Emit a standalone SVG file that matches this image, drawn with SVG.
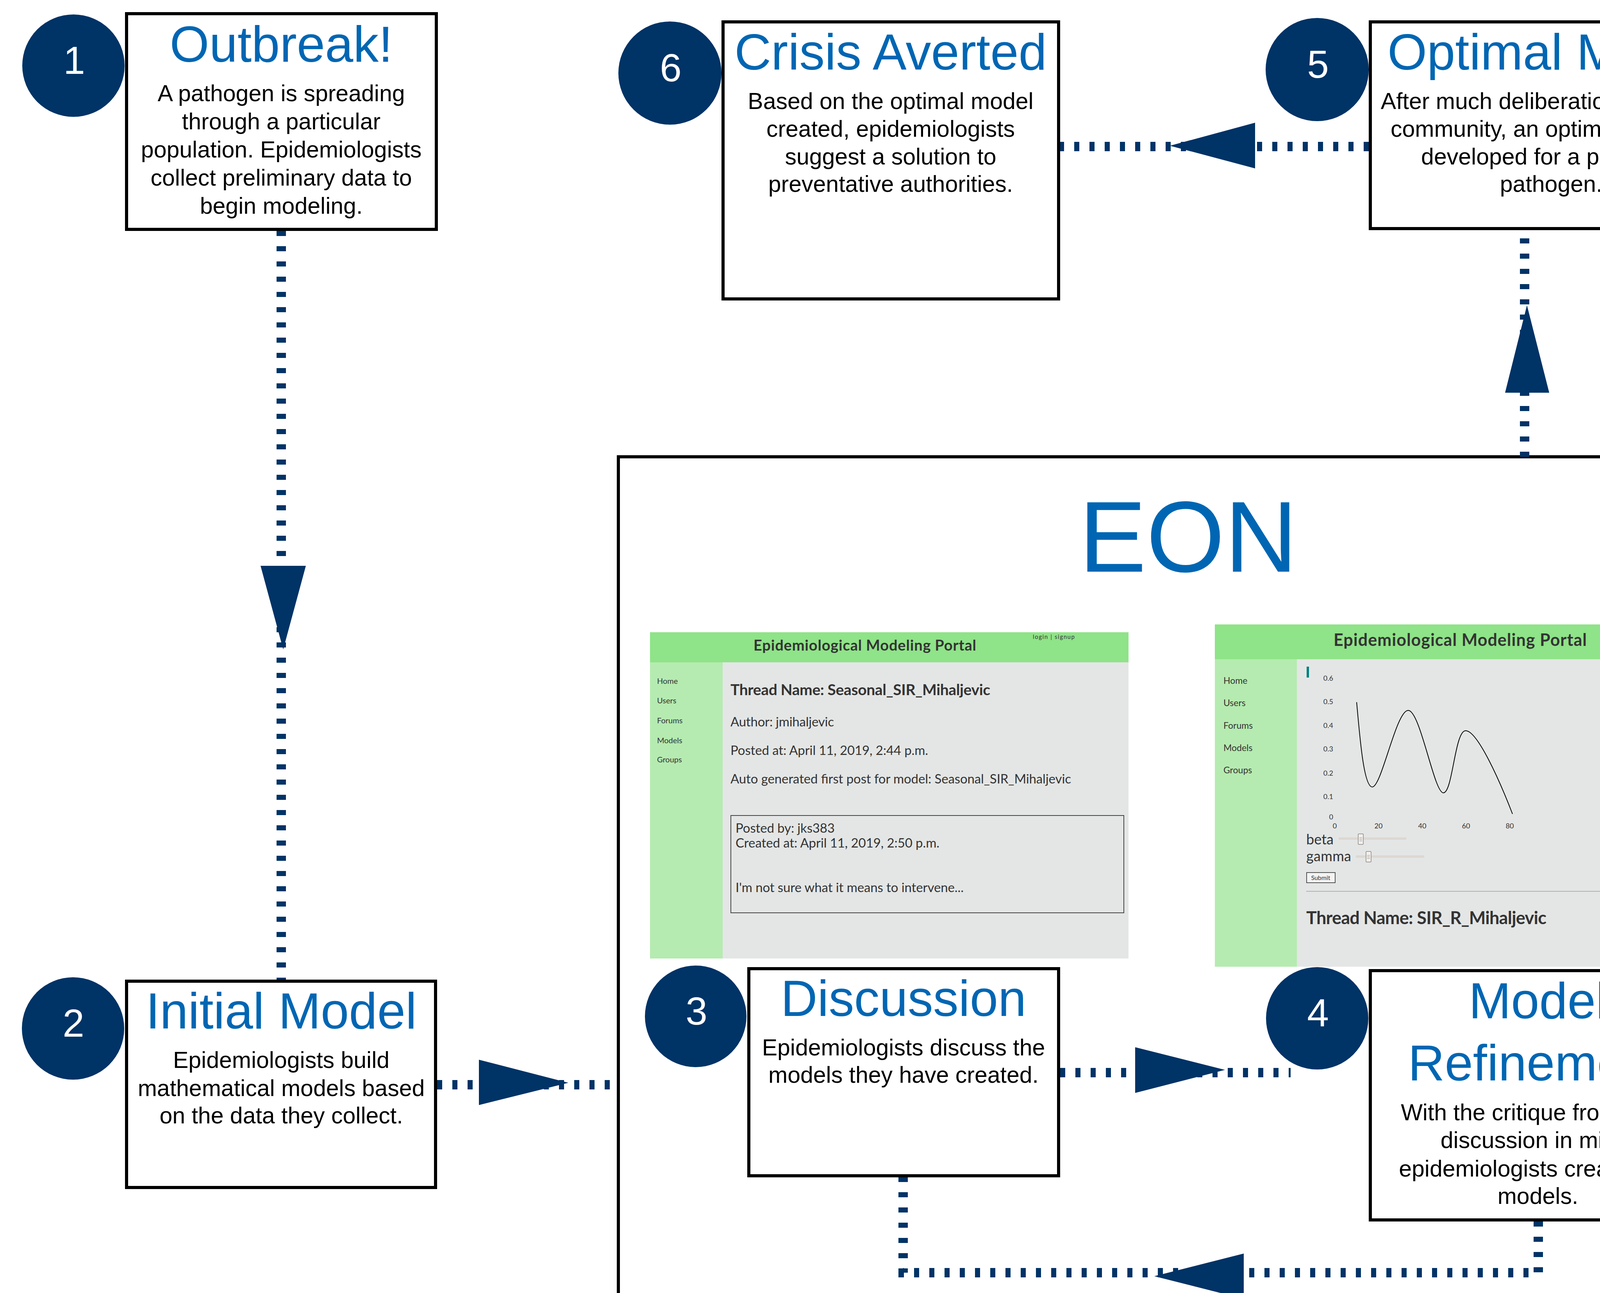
<svg xmlns="http://www.w3.org/2000/svg" width="4611" height="3309" viewBox="0 0 4611 3309">
<style>
.box{fill:#fff;stroke:#000;stroke-width:8}
.circ{fill:#003366}
.num{font-family:"Liberation Sans",Arial,sans-serif;font-size:100px;fill:#fff;text-anchor:middle}
.title{font-family:"Liberation Sans",Arial,sans-serif;font-size:130px;fill:#0066b3;text-anchor:middle}
.body{font-family:"Liberation Sans",Arial,sans-serif;font-size:59px;fill:#000;text-anchor:middle}
.conn{fill:none;stroke:#003366;stroke-width:24;stroke-dasharray:13 26}
.head{fill:#003366}
.lato{font-family:Lato,"Open Sans",sans-serif;fill:#333}
.hdr{fill:#8fe388}
.side{fill:#b5ebb0}
.main{fill:#e4e6e5}
</style>
<rect width="4611" height="3309" fill="#fff"/>

<g id="eon">
<rect x="1583" y="1169" width="2983" height="2400" fill="none" stroke="#000" stroke-width="8"/>
<text x="3042" y="1463" font-family="Liberation Sans, Arial, sans-serif" font-size="258" fill="#0066b3" text-anchor="middle">EON</text>
</g>

<g id="screenshot-forum">
<rect class="main" x="1664" y="1618" width="1225" height="835"/>
<rect class="hdr" x="1664" y="1618" width="1225" height="77"/>
<rect class="side" x="1664" y="1695" width="186" height="758"/>
<text class="lato" x="2214" y="1665" font-size="38" font-weight="bold" text-anchor="middle" textLength="570">Epidemiological Modeling Portal</text>
<text class="lato" x="2644" y="1635" font-size="15" fill="#111" textLength="107">login | signup</text>
<text class="lato" x="1682" y="1750" font-size="20">Home</text>
<text class="lato" x="1682" y="1800" font-size="20">Users</text>
<text class="lato" x="1682" y="1851" font-size="20">Forums</text>
<text class="lato" x="1682" y="1902" font-size="20">Models</text>
<text class="lato" x="1682" y="1951" font-size="20">Groups</text>
<text class="lato" x="1870" y="1779" font-size="39" font-weight="bold" fill="#222" textLength="665">Thread Name: Seasonal_SIR_Mihaljevic</text>
<text class="lato" x="1870" y="1859" font-size="33" fill="#222" textLength="265">Author: jmihaljevic</text>
<text class="lato" x="1870" y="1932" font-size="33" fill="#222" textLength="506">Posted at: April 11, 2019, 2:44 p.m.</text>
<text class="lato" x="1870" y="2005" font-size="33" fill="#222" textLength="872">Auto generated first post for model: Seasonal_SIR_Mihaljevic</text>
<rect x="1871" y="2087" width="1006" height="249" fill="none" stroke="#444" stroke-width="2"/>
<text class="lato" x="1883" y="2131" font-size="33" fill="#222" textLength="254">Posted by: jks383</text>
<text class="lato" x="1883" y="2169" font-size="33" fill="#222" textLength="522">Created at: April 11, 2019, 2:50 p.m.</text>
<text class="lato" x="1883" y="2283" font-size="33" fill="#222" textLength="584">I'm not sure what it means to intervene...</text>
</g>

<g id="screenshot-model">
<rect class="main" x="3110" y="1598" width="1395" height="876"/>
<rect class="hdr" x="3110" y="1598" width="1395" height="89"/>
<rect class="side" x="3110" y="1687" width="210" height="787"/>
<text class="lato" x="3738" y="1653" font-size="43" font-weight="bold" text-anchor="middle" textLength="648">Epidemiological Modeling Portal</text>
<text class="lato" x="4227" y="1617" font-size="17" fill="#111" textLength="122">login | signup</text>
<text class="lato" x="3132" y="1750" font-size="23">Home</text>
<text class="lato" x="3132" y="1807" font-size="23">Users</text>
<text class="lato" x="3132" y="1865" font-size="23">Forums</text>
<text class="lato" x="3132" y="1922" font-size="23">Models</text>
<text class="lato" x="3132" y="1979" font-size="23">Groups</text>
<rect x="3345" y="1706" width="6" height="28" fill="#008080"/>
<g class="lato" font-size="18" text-anchor="end">
<text x="3413" y="1742">0.6</text>
<text x="3413" y="1802">0.5</text>
<text x="3413" y="1863">0.4</text>
<text x="3413" y="1923">0.3</text>
<text x="3413" y="1985">0.2</text>
<text x="3413" y="2045">0.1</text>
<text x="3413" y="2097">0</text>
</g>
<g class="lato" font-size="18" text-anchor="middle">
<text x="3417" y="2120">0</text>
<text x="3529" y="2120">20</text>
<text x="3641" y="2120">40</text>
<text x="3753" y="2120">60</text>
<text x="3865" y="2120">80</text>
</g>
<path d="M3473,1797 C3481,1885 3491,2014 3513,2014 C3537,2014 3574,1818 3605,1818 C3636,1818 3671,2029 3695,2029 C3719,2029 3724,1870 3752,1870 C3782,1870 3838,1995 3872,2083" fill="none" stroke="#000" stroke-width="2"/>
<text class="lato" x="3344" y="2161" font-size="36" fill="#222" textLength="70">beta</text>
<rect x="3427" y="2143" width="173" height="6" fill="#ddd8d2"/>
<rect x="3477" y="2134" width="13" height="27" rx="2" fill="#f2f0ee" stroke="#8a8580" stroke-width="1.5"/>
<path d="M3480,2144 h7 M3480,2148 h7 M3480,2152 h7" stroke="#8a8580" stroke-width="1"/>
<text class="lato" x="3344" y="2204" font-size="36" fill="#222" textLength="115">gamma</text>
<rect x="3471" y="2189" width="175" height="6" fill="#ddd8d2"/>
<rect x="3497" y="2179" width="13" height="27" rx="2" fill="#f2f0ee" stroke="#8a8580" stroke-width="1.5"/>
<path d="M3500,2189 h7 M3500,2193 h7 M3500,2197 h7" stroke="#8a8580" stroke-width="1"/>
<rect x="3345" y="2233" width="73" height="26" fill="#f3f3f3" stroke="#222" stroke-width="1.5"/>
<text class="lato" x="3381" y="2252" font-size="16" fill="#111" text-anchor="middle">Submit</text>
<line x1="3344" y1="2281" x2="4494" y2="2281" stroke="#b0b0b0" stroke-width="2"/>
<text class="lato" x="3344" y="2365" font-size="45" font-weight="bold" fill="#222" textLength="615">Thread Name: SIR_R_Mihaljevic</text>
</g>

<g id="connectors">
<line class="conn" x1="720" y1="591" x2="720" y2="2507"/>
<polygon class="head" points="667,1448 783,1448 725,1662"/>
<line class="conn" x1="1119" y1="2776" x2="1583" y2="2776"/>
<polygon class="head" points="1226,2712 1226,2828 1455,2771"/>
<line class="conn" x1="2714" y1="2745" x2="3304" y2="2745"/>
<polygon class="head" points="2906,2680 2906,2797 3136,2738"/>
<path class="conn" d="M3938,3126 V3257 H2312 V3013"/>
<polygon class="head" points="3184,3208 3184,3324 2955,3266"/>
<line class="conn" x1="3903" y1="1169" x2="3903" y2="589"/>
<polygon class="head" points="3909,781 3853,1005 3966,1005"/>
<line class="conn" x1="3504" y1="375" x2="2714" y2="375"/>
<polygon class="head" points="2995,373 3213,314 3213,431"/>
</g>

<g id="node-1">
<rect class="box" x="324" y="35" width="793" height="552"/>
<circle class="circ" cx="188" cy="168" r="131"/>
<text class="num" x="190" y="189">1</text>
<text class="title" x="720" y="158">Outbreak!</text>
<text class="body" x="720" y="259">A pathogen is spreading</text>
<text class="body" x="720" y="331">through a particular</text>
<text class="body" x="720" y="403">population. Epidemiologists</text>
<text class="body" x="720" y="475">collect preliminary data to</text>
<text class="body" x="720" y="547">begin modeling.</text>
</g>

<g id="node-2">
<rect class="box" x="324" y="2511" width="791" height="528"/>
<circle class="circ" cx="187" cy="2632" r="131"/>
<text class="num" x="188" y="2653">2</text>
<text class="title" x="720" y="2632">Initial Model</text>
<text class="body" x="720" y="2733">Epidemiologists build</text>
<text class="body" x="720" y="2805">mathematical models based</text>
<text class="body" x="720" y="2875">on the data they collect.</text>
</g>

<g id="node-3">
<rect class="box" x="1917" y="2479" width="793" height="530"/>
<circle class="circ" cx="1781" cy="2601" r="130"/>
<text class="num" x="1783" y="2622">3</text>
<text class="title" x="2313" y="2600">Discussion</text>
<text class="body" x="2313" y="2701">Epidemiologists discuss the</text>
<text class="body" x="2313" y="2771">models they have created.</text>
</g>

<g id="node-4">
<rect class="box" x="3508" y="2484" width="859" height="638"/>
<circle class="circ" cx="3372" cy="2606" r="131"/>
<text class="num" x="3374" y="2627">4</text>
<text class="title" x="3937" y="2606">Model</text>
<text class="title" x="3937" y="2765">Refinement</text>
<text class="body" x="3937" y="2867">With the critique from each</text>
<text class="body" x="3937" y="2938">discussion in mind,</text>
<text class="body" x="3937" y="3011">epidemiologists create new</text>
<text class="body" x="3937" y="3081">models.</text>
</g>

<g id="node-5">
<rect class="box" x="3508" y="56" width="926" height="529"/>
<circle class="circ" cx="3372" cy="178" r="132"/>
<text class="num" x="3374" y="199">5</text>
<text class="title" x="3971" y="178">Optimal Model</text>
<text class="body" x="3971" y="279">After much deliberation within the</text>
<text class="body" x="3971" y="350">community, an optimal model is</text>
<text class="body" x="3971" y="421">developed for a particular</text>
<text class="body" x="3971" y="491">pathogen.</text>
</g>

<g id="node-6">
<rect class="box" x="1851" y="56" width="859" height="709"/>
<circle class="circ" cx="1715" cy="187" r="132"/>
<text class="num" x="1717" y="208">6</text>
<text class="title" x="2280" y="178">Crisis Averted</text>
<text class="body" x="2280" y="279">Based on the optimal model</text>
<text class="body" x="2280" y="350">created, epidemiologists</text>
<text class="body" x="2280" y="421">suggest a solution to</text>
<text class="body" x="2280" y="491">preventative authorities.</text>
</g>
</svg>
